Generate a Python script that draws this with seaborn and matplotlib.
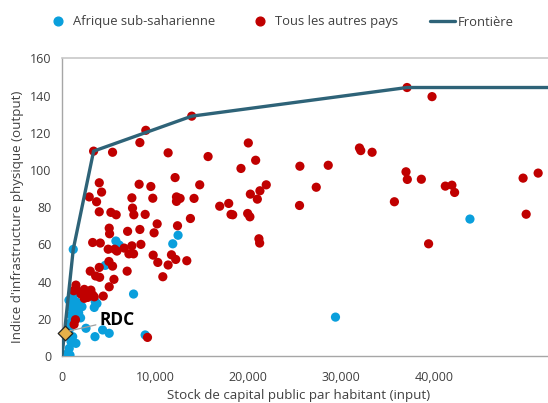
import numpy as np
import pandas as pd
import matplotlib
matplotlib.use("Agg")
import matplotlib.pyplot as plt
import seaborn as sns
from matplotlib.lines import Line2D

# ---- data ----
afr_x = [1210, 12490, 11920, 5800, 6160, 4650, 7700, 8950, 29430, 43900,
         3580, 3760, 3470, 2580, 3550, 4370, 5080,
         1500, 1860, 1210, 1690, 2150, 1070, 1320, 1790, 970, 1580,
         860, 780, 1150, 970, 1500, 780, 610, 860, 1320, 1180, 750, 2000]
afr_y = [57.3, 64.9, 60.3, 61.8, 59.6, 48.7, 33.3, 11.3, 20.9, 73.6,
         29.2, 28.2, 26.1, 14.9, 10.4, 14.0, 12.2,
         29.2, 28.3, 27.4, 26.1, 26.5, 25.6, 23.8, 23.2, 22.0, 21.1,
         17.6, 14.3, 10.4, 7.7, 6.8, 4.1, 1.4, 0.5, 33.6, 30.6, 30.0, 20.5]

oth_x = [3400, 5440, 9020, 8380, 13960, 11420, 15720, 20050, 19260, 20840,
         25600, 28650, 32010, 32150, 33370, 37130, 39820, 37020, 37160, 38670,
         41250, 41960, 42250, 35770, 39450, 49620, 51240, 49950, 21980, 21300,
         21020, 27360, 25560, 21190, 21270, 12170, 14820, 8300, 9560, 4010,
         4260, 2930, 3720, 4010, 5260, 5830, 7520, 7590, 7730, 9770,
         8950, 12320, 12530, 12710, 12320, 14210, 16970, 17940, 18190, 18370,
         19980, 20220, 20270, 10240, 8380, 9910, 5080, 5120, 7060, 12430,
         13820, 3300, 4120, 4970, 5660, 5910, 6690, 7200, 7700, 8490,
         7520, 9810, 10310, 11420, 11780, 12240, 13430, 10850, 7010, 5050,
         5440, 4010, 3040, 3620, 4050, 5590, 5080, 4440, 1500, 1260,
         2400, 3110, 2580, 3300, 2040, 2400, 2760, 3470, 1450, 1300,
         9200, 1500]
oth_y = [110.1, 109.5, 121.3, 114.7, 128.9, 109.2, 107.2, 114.5, 100.8, 105.2,
         102.0, 102.5, 111.8, 110.4, 109.5, 144.3, 139.4, 99.0, 94.9, 95.0,
         91.3, 91.8, 87.9, 82.9, 60.3, 95.6, 98.3, 76.2, 92.0, 88.8,
         84.3, 90.7, 80.9, 63.0, 60.7, 95.9, 92.0, 92.3, 91.1, 93.1,
         88.1, 85.5, 82.9, 77.5, 77.2, 75.9, 85.0, 79.5, 75.9, 84.8,
         76.1, 85.5, 84.8, 84.7, 83.1, 84.7, 80.5, 82.0, 76.1, 75.9,
         76.6, 74.8, 87.0, 71.0, 68.0, 66.2, 68.7, 65.7, 67.0, 70.0,
         73.9, 61.0, 60.7, 57.4, 57.4, 56.4, 58.0, 54.9, 54.9, 60.0,
         59.2, 54.2, 50.3, 48.9, 54.4, 51.9, 51.2, 42.6, 45.6, 50.8,
         48.3, 47.6, 45.6, 43.0, 42.3, 41.2, 37.2, 32.2, 36.3, 35.1,
         35.8, 35.4, 34.0, 32.8, 33.3, 31.0, 31.5, 31.8, 19.5, 17.0,
         10.0, 38.1]

front_x = [0, 1210, 3400, 13960, 37130, 52300]
front_y = [0, 57.3, 110.1, 128.9, 144.3, 144.3]

rdc_x = [320]
rdc_y = [12.5]

labels = ["Afrique sub-saharienne", "Tous les autres pays", "Frontière"]
x_ticks = [0, 10000, 20000, 30000, 40000]
y_ticks = [0, 20, 40, 60, 80, 100, 120, 140, 160]

# ---- style ----
sns.set_theme(style="white")
plt.rcParams['font.family'] = ['Open Sans', 'DejaVu Sans']

BLUE = "#0a9fdc"
RED = "#c00000"
LINE = "#2e6378"
GRAY = "#a6a6a6"
TXT = "#404040"

W, H = 548, 403
fig = plt.figure(figsize=(W / 100, H / 100), dpi=100)
ax = fig.add_axes([62 / W, 47 / H, (W - 62) / W, (356 - 58.3) / H])

df = pd.concat([
    pd.DataFrame({"x": afr_x, "y": afr_y, "g": labels[0]}),
    pd.DataFrame({"x": oth_x, "y": oth_y, "g": labels[1]}),
], ignore_index=True)

sns.scatterplot(data=df, x="x", y="y", hue="g",
                palette={labels[0]: BLUE, labels[1]: RED},
                s=44, linewidth=0, legend=False, ax=ax, zorder=3)
sns.lineplot(x=front_x, y=front_y, color=LINE, lw=2.4, ax=ax,
             sort=False, estimator=None, zorder=4)
ax.scatter(rdc_x, rdc_y, marker="D", s=55, color="#e6b04a",
           edgecolor="#222222", linewidth=0.9, zorder=6, clip_on=False)
ax.annotate("RDC", xy=(rdc_x[0] + 500, rdc_y[0] + 1), xytext=(4000, 19.3),
            fontsize=12.5, fontweight="bold", color="black", va="center",
            arrowprops=dict(arrowstyle="-", color="#a0a0a0", lw=0.9,
                            shrinkA=0, shrinkB=0), zorder=7)

ax.set_xlim(0, 52300)
ax.set_ylim(0, 160)
ax.set_xticks(x_ticks)
ax.set_xticklabels([f"{v:,}" for v in x_ticks])
ax.set_yticks(y_ticks)
ax.tick_params(axis="both", labelsize=9, length=4, width=0.8,
               direction="out", colors=GRAY, labelcolor=TXT)
ax.tick_params(axis="x", pad=7)
ax.set_xlabel("Stock de capital public par habitant (input)", fontsize=9.6,
              color=TXT)
ax.set_ylabel("Indice d'infrastructure physique (output)", fontsize=9.6,
              color=TXT)
ax.xaxis.set_label_coords((299 - 62) / (W - 62), -(389 - 356) / 297.7)
ax.yaxis.set_label_coords(-(62 - 24) / (W - 62), (356 - 216.7) / 297.7)
for side in ["left", "bottom"]:
    ax.spines[side].set_color(GRAY)
    ax.spines[side].set_linewidth(1.0)
ax.spines["top"].set_color("#c8c8c8")
ax.spines["top"].set_linewidth(1.2)
ax.spines["right"].set_visible(False)

handles = [
    Line2D([], [], marker="o", ls="", color=BLUE, markersize=6.3),
    Line2D([], [], marker="o", ls="", color=RED, markersize=6.3),
    Line2D([], [], color=LINE, lw=2.4),
]
fig.legend(handles, labels, loc="center left",
           bbox_to_anchor=(46 / W, 1 - 22 / H), borderpad=0,
           borderaxespad=0, ncol=3, frameon=False, fontsize=9.4,
           handlelength=1.9, columnspacing=2.45, handletextpad=0.2,
           labelcolor=TXT)

fig.savefig("out.png", dpi=100)
